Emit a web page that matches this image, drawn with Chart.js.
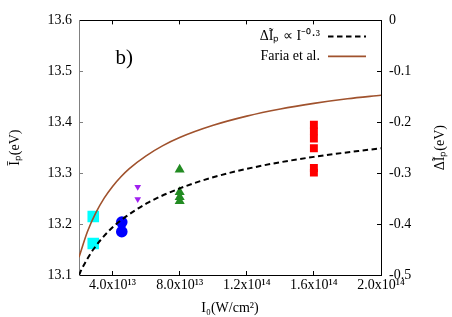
<!DOCTYPE html>
<html>
<head>
<meta charset="utf-8">
<script src="https://cdn.jsdelivr.net/npm/chart.js@4/dist/chart.umd.min.js"></script>
<style>
  body { margin: 0; background: #fff; }
</style>
</head>
<body>
<canvas id="chart" width="452" height="317"></canvas>
<script>
// measured points, I0 in W/cm2 and mean ionization potential in eV
const cyanI = [2.85e13, 2.85e13];
const cyanIp = [13.215, 13.162];
const blueI = [4.55e13, 4.55e13];
const blueIp = [13.204, 13.185];
const purpleI = [5.5e13, 5.5e13];
const purpleIp = [13.273, 13.249];
const greenI = [8e13, 8e13, 8e13, 8e13];
const greenIp = [13.307, 13.263, 13.253, 13.245];
const redI = [1.6e14, 1.6e14, 1.6e14, 1.6e14, 1.6e14, 1.6e14];
const redIp = [13.395, 13.382, 13.368, 13.349, 13.310, 13.301];

// Faria et al. curve (left axis)
const fariaI = [2e13, 2.5e13, 3e13, 3.5e13, 4e13, 4.5e13, 5e13, 6e13, 7e13, 8e13, 1e14, 1.2e14, 1.4e14, 1.6e14, 1.8e14, 2e14];
const fariaIp = [13.135, 13.185, 13.222, 13.251, 13.274, 13.293, 13.309, 13.334, 13.354, 13.370, 13.394, 13.412, 13.426, 13.437, 13.446, 13.453];

// power law fit (right axis, delta Ip)
const fitI = [2e13, 2.2e13, 2.85e13, 3.85e13, 4.56e13, 6.05e13, 8e13, 1e14, 1.28e14, 1.6e14, 2e14];
const fitDIp = [-0.5, -0.486, -0.450, -0.411, -0.391, -0.359, -0.330, -0.308, -0.286, -0.268, -0.251];

const xTicks = [4e13, 8e13, 1.2e14, 1.6e14, 2e14];
const xTickLabels = ['4.0x10¹³', '8.0x10¹³', '1.2x10¹⁴', '1.6x10¹⁴', '2.0x10¹⁴'];

const legendLabels = ['ΔĨₚ ∝ I⁻⁰·³', 'Faria et al.'];

const toPts = (xs, ys) => xs.map((x, i) => ({x: x, y: ys[i]}));

Chart.defaults.font.family = '"Liberation Serif", serif';
Chart.defaults.font.size = 14;
Chart.defaults.color = '#000';

// legend drawn inside the plot: text first, line sample after
const insideLegend = {
  id: 'insideLegend',
  afterDraw(chart) {
    const c = chart.ctx;
    const area = chart.chartArea;
    c.save();
    c.font = '14px "Liberation Serif", serif';
    c.textAlign = 'right';
    c.textBaseline = 'middle';
    chart.data.datasets.forEach((ds, i) => {
      if (!ds.legendText) return;
      const y = area.top + 16 + ds.legendRow * 20;
      c.fillStyle = '#000';
      c.fillText(ds.legendText, area.right - 61, y);
      c.strokeStyle = ds.borderColor;
      c.lineWidth = ds.borderWidth;
      c.setLineDash(ds.borderDash || []);
      c.beginPath();
      c.moveTo(area.right - 53, y);
      c.lineTo(area.right - 15, y);
      c.stroke();
    });
    c.setLineDash([]);

    // panel label
    c.font = '21px "Liberation Serif", serif';
    c.textAlign = 'center';
    c.fillText('b)', chart.scales.x.getPixelForValue(4.7e13), chart.scales.y.getPixelForValue(13.525));

    // right axis title, reading upwards
    c.font = '14px "Liberation Serif", serif';
    c.translate(440, (area.top + area.bottom) / 2);
    c.rotate(-Math.PI / 2);
    c.fillText('ΔĨₚ(eV)', 0, 0);
    c.restore();
  }
};

const xTickSetup = (scale) => {
  scale.ticks = xTicks.map(v => ({value: v}));
};

new Chart(document.getElementById('chart'), {
  type: 'scatter',
  data: {
    datasets: [
      {
        data: toPts(fitI, fitDIp),
        yAxisID: 'y1',
        showLine: true,
        pointRadius: 0,
        borderColor: '#000',
        borderWidth: 2,
        borderDash: [5.5, 3.5],
        cubicInterpolationMode: 'monotone',
        legendText: legendLabels[0],
        legendRow: 0
      },
      {
        data: toPts(fariaI, fariaIp),
        yAxisID: 'y',
        showLine: true,
        pointRadius: 0,
        borderColor: '#a0522d',
        borderWidth: 1.6,
        cubicInterpolationMode: 'monotone',
        legendText: legendLabels[1],
        legendRow: 1
      },
      {
        data: toPts(cyanI, cyanIp),
        pointStyle: 'rect',
        pointRadius: 8.2,
        backgroundColor: '#00ffff',
        borderWidth: 0
      },
      {
        data: toPts(blueI, blueIp),
        pointStyle: 'circle',
        pointRadius: 5.8,
        backgroundColor: '#0000ff',
        borderWidth: 0
      },
      {
        data: toPts(purpleI, purpleIp),
        pointStyle: 'triangle',
        rotation: 180,
        pointRadius: 3.9,
        backgroundColor: '#a020f0',
        borderWidth: 0
      },
      {
        data: toPts(greenI, greenIp),
        pointStyle: 'triangle',
        pointRadius: 5.8,
        backgroundColor: '#228b22',
        borderWidth: 0
      },
      {
        data: toPts(redI, redIp),
        pointStyle: 'rect',
        pointRadius: 5.6,
        backgroundColor: '#ff0000',
        borderWidth: 0
      }
    ]
  },
  options: {
    responsive: false,
    devicePixelRatio: 1,
    animation: false,
    layout: { padding: 0 },
    plugins: {
      legend: { display: false },
      tooltip: { enabled: false }
    },
    scales: {
      x: {
        type: 'linear',
        position: 'bottom',
        min: 2e13,
        max: 2e14,
        afterBuildTicks: xTickSetup,
        afterFit: (s) => { s.height = 42; },
        ticks: {
          autoSkip: false,
          maxRotation: 0,
          padding: 6,
          callback: (v) => xTickLabels[xTicks.indexOf(v)]
        },
        grid: { drawOnChartArea: false, tickLength: -4, color: '#000' },
        border: { color: '#000' },
        title: { display: true, text: 'I₀(W/cm²)', padding: { top: 0, bottom: 0 } }
      },
      x2: {
        type: 'linear',
        position: 'top',
        min: 2e13,
        max: 2e14,
        afterBuildTicks: xTickSetup,
        afterFit: (s) => { s.height = 16; },
        ticks: { display: false },
        grid: { drawOnChartArea: false, tickLength: -4, color: '#000' },
        border: { color: '#000' }
      },
      y: {
        position: 'left',
        min: 13.1,
        max: 13.6,
        afterFit: (s) => { s.width = 79; },
        ticks: { stepSize: 0.1, padding: 11, callback: (v) => v.toFixed(1) },
        grid: { drawOnChartArea: false, tickLength: -4, color: '#808080' },
        border: { color: '#808080' },
        title: { display: true, text: 'Īₚ(eV)', padding: { top: 7, bottom: 0 } }
      },
      y1: {
        position: 'right',
        min: -0.5,
        max: 0,
        afterFit: (s) => { s.width = 71; },
        ticks: { stepSize: 0.1, padding: 12, callback: (v) => (Math.abs(v) < 1e-9 ? '0' : v.toFixed(1)) },
        grid: { drawOnChartArea: false, tickLength: -4, color: '#000' },
        border: { color: '#000' }
      }
    }
  },
  plugins: [insideLegend]
});
</script>
</body>
</html>
